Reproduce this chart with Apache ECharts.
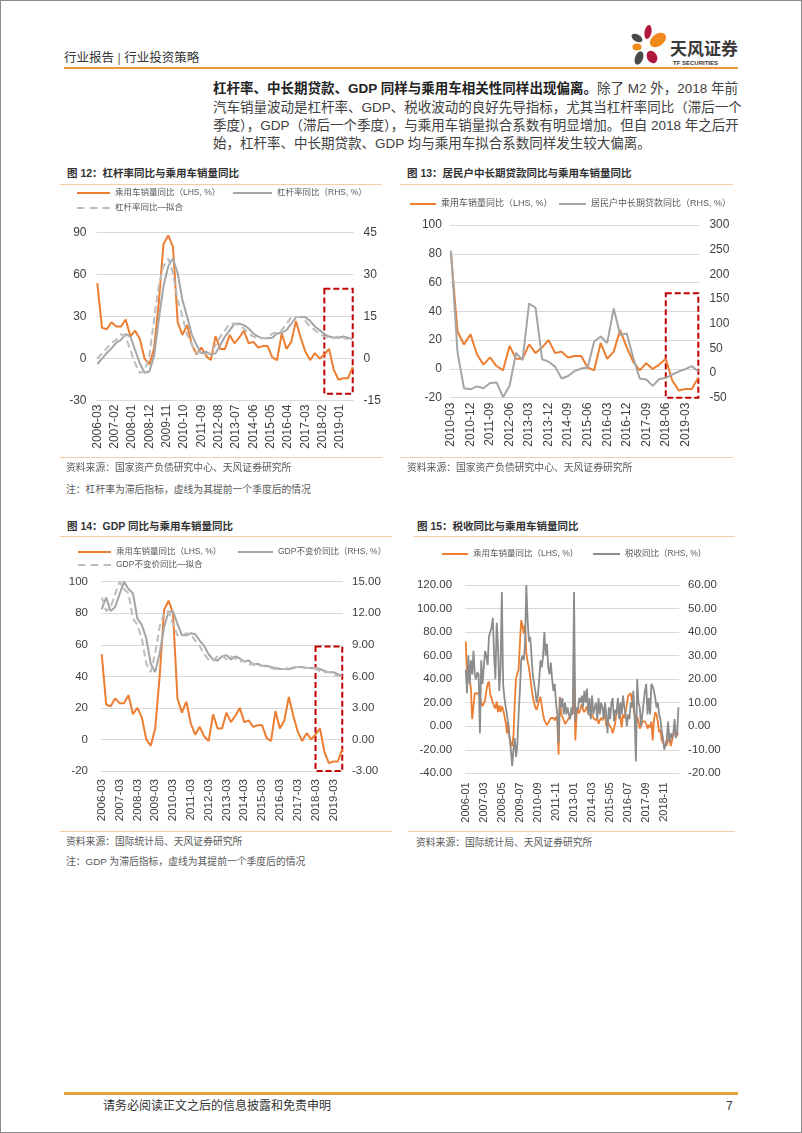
<!DOCTYPE html>
<html><head><meta charset="utf-8">
<script src="https://cdn.jsdelivr.net/npm/echarts@6/dist/echarts.min.js"></script>
<style>
html,body{margin:0;padding:0;background:#fff;}
#page{position:relative;width:802px;height:1133px;overflow:hidden;font-family:"Liberation Sans","Noto Sans CJK SC",sans-serif;color:#333;background:#fff;}
#frame{position:absolute;left:0;top:0;width:802px;height:1133px;box-sizing:border-box;border:1px solid #8c8c8c;pointer-events:none;}
.abs{position:absolute;white-space:nowrap;line-height:1;}
.t{font-size:10.5px;font-weight:bold;color:#333;}
.src{font-size:9.8px;color:#595959;}
.rule{position:absolute;height:1.5px;background:#F6CBA8;}
.para{position:absolute;left:213px;width:525px;font-size:13.5px;line-height:1;color:#404040;white-space:nowrap;text-align:justify;text-align-last:justify;}
.chart{position:absolute;}
</style></head>
<body>
<div id="page">
  <div class="abs" style="left:64px;top:51.5px;font-size:12.5px;color:#333;">行业报告 <span style="color:#666;">|</span> 行业投资策略</div>
  <svg class="abs" style="left:0;top:0;" width="802" height="80">
    <ellipse cx="648" cy="32" rx="3.5" ry="7" fill="#B0183C" transform="rotate(10 648 32)"/>
    <ellipse cx="637" cy="38" rx="6" ry="3.5" fill="#4a4a4a" transform="rotate(30 637 38)"/>
    <ellipse cx="658" cy="40" rx="9" ry="6" fill="#F08A1C" transform="rotate(-35 658 40)"/>
    <ellipse cx="637" cy="47" rx="4.5" ry="3.5" fill="#F08A1C"/>
    <ellipse cx="639" cy="58" rx="4" ry="7" fill="#4a4a4a" transform="rotate(20 639 58)"/>
    <ellipse cx="652" cy="57" rx="5" ry="6.5" fill="#B0183C" transform="rotate(-30 652 57)"/>
  </svg>
  <div class="abs" style="left:670px;top:38.5px;font-size:17px;font-weight:bold;color:#3a3a3a;font-family:'Noto Sans CJK SC',sans-serif;">天风证券</div>
  <div class="abs" style="left:673px;top:60px;font-size:6px;font-weight:bold;color:#333;">TF SECURITIES</div>
  <div class="rule" style="left:64px;top:67px;width:674px;height:2px;background:#E9963F;"></div>

  <div class="para" style="top:81.5px;"><b style="color:#222;">杠杆率、中长期贷款、GDP 同样与乘用车相关性同样出现偏离。</b>除了 M2 外，2018 年前</div>
  <div class="para" style="top:100.5px;">汽车销量波动是杠杆率、GDP、税收波动的良好先导指标，尤其当杠杆率同比（滞后一个</div>
  <div class="para" style="top:119.3px;">季度），GDP（滞后一个季度），与乘用车销量拟合系数有明显增加。但自 2018 年之后开</div>
  <div class="para" style="top:137.3px;text-align:left;text-align-last:left;">始，杠杆率、中长期贷款、GDP 均与乘用车拟合系数同样发生较大偏离。</div>

  <div class="abs t" style="left:67px;top:167.5px;">图 12：杠杆率同比与乘用车销量同比</div>
  <div class="rule" style="left:60px;top:183.5px;width:322px;"></div>
  <div class="abs t" style="left:407px;top:167.5px;">图 13：居民户中长期贷款同比与乘用车销量同比</div>
  <div class="rule" style="left:400px;top:183.5px;width:333px;"></div>

  <div id="c12" class="chart" style="left:60px;top:180px;width:340px;height:280px;"></div>
  <div id="c13" class="chart" style="left:400px;top:180px;width:340px;height:280px;"></div>

  <div class="rule" style="left:60px;top:456.5px;width:322px;"></div>
  <div class="rule" style="left:400px;top:456.5px;width:333px;"></div>
  <div class="abs src" style="left:66px;top:463px;">资料来源：国家资产负债研究中心、天风证券研究所</div>
  <div class="abs src" style="left:66px;top:485px;">注：杠杆率为滞后指标，虚线为其提前一个季度后的情况</div>
  <div class="abs src" style="left:407px;top:463px;">资料来源：国家资产负债研究中心、天风证券研究所</div>

  <div class="abs t" style="left:67px;top:520.5px;">图 14：GDP 同比与乘用车销量同比</div>
  <div class="rule" style="left:60px;top:535.5px;width:332px;"></div>
  <div class="abs t" style="left:417px;top:520.5px;">图 15：税收同比与乘用车销量同比</div>
  <div class="rule" style="left:413px;top:535.5px;width:322px;"></div>

  <div id="c14" class="chart" style="left:60px;top:536px;width:340px;height:292px;"></div>
  <div id="c15" class="chart" style="left:400px;top:536px;width:340px;height:292px;"></div>

  <div class="rule" style="left:60px;top:830.5px;width:332px;"></div>
  <div class="rule" style="left:408px;top:830.5px;width:327px;"></div>
  <div class="abs src" style="left:66px;top:837px;">资料来源：国际统计局、天风证券研究所</div>
  <div class="abs src" style="left:66px;top:857px;">注：GDP 为滞后指标，虚线为其提前一个季度后的情况</div>
  <div class="abs src" style="left:416px;top:838px;">资料来源：国际统计局、天风证券研究所</div>

  <div class="rule" style="left:64px;top:1092px;width:674px;height:2.5px;background:#E9A040;"></div>
  <div class="abs" style="left:103px;top:1100px;font-size:12px;color:#333;">请务必阅读正文之后的信息披露和免责申明</div>
  <div class="abs" style="left:726px;top:1100px;font-size:12px;color:#333;">7</div>
  <div id="frame"></div>
</div>
<script>
// ---------------- data ----------------
// quarterly passenger-car sales yoy (%), 2006-03 ... 2019-09
const salesQ = [54, 22, 21, 26, 23, 23, 28, 16, 20, 14, 0, -4, 7, 40, 82, 88,
  80, 26, 17, 24, 10, 3, 8, 2, -1, 16, 7, 7, 17, 11, 15, 20,
  11, 12, 8, 9, 9, 1, -1, 18, 7, 12, 27, 15, 5, -1, 4, 0,
  3, 7, -8, -15, -14, -14, -6];
// leverage yoy (RHS), 2006-03 ... 2019-09
const leverageQ = [-1.9, 0, 2, 3.7, 5.7, 6.7, 8.8, 7.9, 3.1, -1.7, -5, -4.6, 1, 14, 26, 33,
  35.8, 30.5, 21, 15, 8.5, 4.9, 1.9, 2.5, 1.5, 1.9, 4.9, 7.9, 10.2, 12.5, 12.5, 12,
  10.8, 9, 7.9, 7.3, 7.3, 7.5, 9, 9.3, 10.2, 12.4, 14.8, 15, 14.8, 13.5, 11.5, 10.2,
  8.8, 7.9, 7.5, 7.5, 7.9, 7.5, 6.9];
// leverage yoy, fitted (one quarter earlier), 2006-03 ... 2019-06
const leverageFit = [0, 2, 3.7, 5.7, 6.7, 8.8, 7.9, 3.1, -1.7, -5, -4.6, 1, 14, 26, 33, 35.8,
  30.5, 21, 15, 8.5, 4.9, 1.9, 2.5, 1.5, 1.9, 4.9, 7.9, 10.2, 12.5, 12.5, 12, 10.8,
  9, 7.9, 7.3, 7.3, 7.5, 9, 9.3, 10.2, 12.4, 14.8, 15, 14.8, 13.5, 11.5, 10.2, 8.8,
  7.9, 7.5, 7.5, 7.9, 7.5, 6.9];
// household mid/long-term loans yoy (RHS), 2010-03 ... 2019-09
const loanQ = [248, 43, -31, -33, -27, -31, -20, -19, -49, -26, 41, 26, 141, 132, 28, 23,
  13, -11, -6, 4, 9, 11, 64, 74, 61, 131, 77, 80, 31, -11, -13, -26,
  -12, -10, -3, 3, 8, 14, 3];
// GDP constant-price yoy (RHS), 2006-03 ... 2019-09
const gdpQ = [12.4, 13.5, 12.2, 12.6, 13.8, 15.0, 14.3, 13.9, 11.5, 10.9, 9.6, 7.2, 6.4, 8.2, 10.7, 12.1,
  12.2, 11.0, 9.9, 9.9, 10.1, 10.0, 9.4, 8.9, 8.1, 7.6, 7.5, 7.9, 8.0, 7.6, 7.9, 7.7,
  7.4, 7.5, 7.1, 7.2, 7.0, 7.0, 6.9, 6.8, 6.7, 6.7, 6.7, 6.8, 6.9, 6.9, 6.8, 6.8,
  6.8, 6.7, 6.5, 6.4, 6.4, 6.2, 6.0];
// GDP fitted (one quarter earlier), 2006-03 ... 2019-06
const gdpFit = [13.5, 12.2, 12.6, 13.8, 15.0, 14.3, 13.9, 11.5, 10.9, 9.6, 7.2, 6.4, 8.2, 10.7, 12.1, 12.2,
  11.0, 9.9, 9.9, 10.1, 10.0, 9.4, 8.9, 8.1, 7.6, 7.5, 7.9, 8.0, 7.6, 7.9, 7.7, 7.4,
  7.5, 7.1, 7.2, 7.0, 7.0, 6.9, 6.8, 6.7, 6.7, 6.7, 6.8, 6.9, 6.9, 6.8, 6.8, 6.8,
  6.7, 6.5, 6.4, 6.4, 6.2, 6.0];
// monthly passenger-car sales yoy (LHS), 2006-01 ... 2019-10
const salesM = [
  72, 45, 52, 40, 32, 6, 5, 28, 29, 28, 27, 26,
  20, 17, 16, 22, 30, 36, 38, 27, 24, 20, 17, 15,
  21, 12, 18, 12, 17, 14, 9, 3, -6, 3, -10, -14,
  -17, -8, 20, 40, 45, 48, 70, 90, 86, 79, 86, 62,
  55, 50, 42, 33, 25, 20, 16, 14, 18, 22, 25, 17,
  10, 5, 4, 1, 2, 5, 7, 8, 7, 5, 8, 5,
  -24, 25, 10, 8, 7, 2, 1, 5, 7, 8, 10, 12,
  48, -12, 10, 14, 11, 15, 19, 14, 12, 14, 17, 11,
  12, 8, 10, 7, 8, 5, 7, 2, 5, 7, 5, 8,
  10, 0, 5, 2, 1, -2, -6, -2, 3, 13, 20, 16,
  7, -1, 10, 7, 12, 11, 26, 25, 28, 21, 17, 16,
  0, 8, 4, -2, 0, 4, 4, 4, 2, -2, 1, -1,
  4, -12, 5, 12, 10, 4, -5, -3, -12, -13, -16, -16,
  -16, -17, -7, -17, -17, -7, -5, -9, -7, -6];
// monthly tax revenue yoy (RHS), 2006-01 ... 2019-10
const taxM = [
  24, 14, 30, 18, 28, 22, 32, 22, 20, 23, 22, -3,
  28, 18, 25, 32, 30, 26, 38, 40, 42, 46, 30, 20,
  44, 35, 15, 25, 57, 18, 12, 8, 5, 0, -5, -10,
  -17, -10, -5, -13, -8, 5, 15, 28, 30, 28, 35, 60,
  45, 36, 38, 30, 22, 18, 15, 10, 13, 20, 28, 25,
  30, 40, 30, 35, 25, 22, 27, 20, 15, 18, 10, 5,
  -7, 12, 8, 12, 5, 10, 5, 8, 5, 3, 8, 5,
  57, 2, 8, 7, 12, 10, 13, 8, 15, 10, 16, 5,
  12, 3, 13, 5, 8, 10, 3, 12, 5, 10, 8, 3,
  10, 5, -3, 8, 3, 10, 12, 2, 7, 5, 12, 3,
  10, 5, 13, 8, 5, 0, 5, 3, 10, 8, 15, 5,
  -15, 20, 10, 8, 0, 5, 10, 15, 18, 5, 12, 5,
  18, 17, 15, 12, 8, 10, 5, 3, -2, -5, -10, -8,
  -5, 2, -7, -3, -5, -3, 3, -5, -3, 8];

const NAME_SALES = '乘用车销量同比（LHS, %）';
const NAME_LEV = '杠杆率同比（RHS, %）';
const NAME_LEVFIT = '杠杆率同比—拟合';
const NAME_LOAN = '居民户中长期贷款同比（RHS, %）';
const NAME_GDP = 'GDP不变价同比（RHS, %）';
const NAME_GDPFIT = 'GDP不变价同比—拟合';
const NAME_TAX = '税收同比（RHS, %）';

// ---------------- helpers ----------------
const ORANGE = '#ED7D31', GREY = '#A5A5A5', GREYL = '#BDBDBD', GREYD = '#8C8C8C', RED = '#C00000';
const FONT = '"Liberation Sans","Noto Sans CJK SC",sans-serif';
const LBL = '#404040';
const ICON_SOLID = 'rect';
const ICON_DASH = 'path://M0,0h7v2h-7z M12,0h7v2h-7z M24,0h7v2h-7z';

function monthList(y0, m0, y1, m1) {
  const out = []; let y = y0, m = m0;
  while (y < y1 || (y === y1 && m <= m1)) {
    out.push(y + '-' + String(m).padStart(2, '0'));
    m++; if (m > 12) { m = 1; y++; }
  }
  return out;
}
const months06 = monthList(2006, 3, 2019, 9);
const months10 = monthList(2010, 3, 2019, 9);
const months15 = monthList(2006, 1, 2019, 10);
const quarters = months06.filter((d, i) => i % 3 === 0);
const pairs = (dates, vals) => vals.map((v, i) => [dates[i], v]);

function legendItem(name, left, yc, w, fs, dashed) {
  return { data: [{ name: name, icon: dashed ? ICON_DASH : ICON_SOLID }], left: left, top: yc - 6, padding: 0,
    itemWidth: w, itemHeight: 2, symbolKeepAspect: false, itemGap: 0,
    textStyle: { fontSize: fs, color: '#595959', fontFamily: FONT, lineHeight: 12 }, selectedMode: false };
}
function xAxisCfg(cats, interval, fs, margin) {
  return { type: 'category', data: cats, boundaryGap: true,
    axisLine: { show: false }, axisTick: { show: false }, splitLine: { show: false },
    axisLabel: { interval: interval, rotate: 90, fontSize: fs, color: LBL, margin: margin, fontFamily: FONT } };
}
function yAxisCfg(min, max, step, fs, margin, right, fmt, grid) {
  return { type: 'value', min: min, max: max, interval: step, position: right ? 'right' : 'left',
    axisLine: { show: false }, axisTick: { show: false },
    splitLine: { show: grid, lineStyle: { color: '#D9D9D9', width: 1 } },
    axisLabel: { fontSize: fs, color: LBL, margin: margin, fontFamily: FONT, formatter: fmt } };
}
function line(name, data, axis, color, width, dashed, z) {
  return { name: name, type: 'line', data: data, yAxisIndex: axis, symbol: 'none', showSymbol: false,
    lineStyle: { color: color, width: width, type: dashed ? [7, 4] : 'solid' }, itemStyle: { color: color },
    emphasis: { disabled: true }, z: z };
}
function box(cats, x0, x1, y0, y1) {
  return { silent: true, label: { show: false },
    itemStyle: { color: 'rgba(0,0,0,0)', borderColor: RED, borderWidth: 2, borderType: [6, 3] },
    data: [[{ coord: [cats.indexOf(x0), y0] }, { coord: [cats.indexOf(x1), y1] }]] };
}
const int = v => String(v);
const fix2 = v => v.toFixed(2);

// ---------------- chart 12 ----------------
const c12 = echarts.init(document.getElementById('c12'));
const s12 = line(NAME_SALES, pairs(quarters, salesQ), 0, ORANGE, 2, false, 2);
s12.markArea = box(months06, '2018-03', '2019-09', 50, -25);
c12.setOption({
  animation: false, textStyle: { fontFamily: FONT },
  grid: { left: 36.5, top: 52.7, width: 257, height: 168, containLabel: false, outerBoundsMode: 'none' },
  legend: [legendItem(NAME_SALES, 17, 13, 33, 8.5), legendItem(NAME_LEV, 173, 13, 39, 8.5), legendItem(NAME_LEVFIT, 17, 28, 33, 8.5, true)],
  xAxis: xAxisCfg(months06, 10, 12, 4),
  yAxis: [yAxisCfg(-30, 90, 30, 12, 10, false, int, true), yAxisCfg(-15, 45, 15, 12, 10, true, int, false)],
  series: [s12,
    line(NAME_LEV, pairs(quarters, leverageQ), 1, GREY, 2, false, 3),
    line(NAME_LEVFIT, pairs(quarters, leverageFit), 1, GREYL, 2, true, 3)]
});

// ---------------- chart 13 ----------------
const c13 = echarts.init(document.getElementById('c13'));
const q10 = quarters.slice(16);
const s13 = line(NAME_SALES, pairs(q10, salesQ.slice(16)), 0, ORANGE, 2, false, 2);
s13.markArea = box(months10, '2018-06', '2019-09', 52.5, -20);
c13.setOption({
  animation: false, textStyle: { fontFamily: FONT },
  grid: { left: 49.9, top: 45, width: 249.5, height: 172.7, containLabel: false, outerBoundsMode: 'none' },
  legend: [legendItem(NAME_SALES, 10, 24, 26, 9), legendItem(NAME_LOAN, 159, 24, 27, 9)],
  xAxis: xAxisCfg(months10, 8, 12, 5),
  yAxis: [yAxisCfg(-20, 100, 20, 12, 8, false, int, true), yAxisCfg(-50, 300, 50, 12, 10, true, int, false)],
  series: [s13, line(NAME_LOAN, pairs(q10, loanQ), 1, GREY, 2, false, 3)]
});

// ---------------- chart 14 ----------------
const c14 = echarts.init(document.getElementById('c14'));
const s14 = line(NAME_SALES, pairs(quarters, salesQ), 0, ORANGE, 2, false, 2);
s14.markArea = box(months06, '2018-03', '2019-09', 59, -20);
c14.setOption({
  animation: false, textStyle: { fontFamily: FONT },
  grid: { left: 41, top: 45.7, width: 242, height: 189.3, containLabel: false, outerBoundsMode: 'none' },
  legend: [legendItem(NAME_SALES, 18, 16, 33, 8.5), legendItem(NAME_GDP, 178, 16, 35, 8.5), legendItem(NAME_GDPFIT, 18, 29, 33, 8.5, true)],
  xAxis: xAxisCfg(months06, 11, 11.5, 8),
  yAxis: [yAxisCfg(-20, 100, 20, 11.5, 13, false, int, true), yAxisCfg(-3, 15, 3, 11.5, 9, true, fix2, false)],
  series: [s14,
    line(NAME_GDP, pairs(quarters, gdpQ), 1, GREY, 2, false, 3),
    line(NAME_GDPFIT, pairs(quarters, gdpFit), 1, GREYL, 2, true, 3)]
});

// ---------------- chart 15 ----------------
const c15 = echarts.init(document.getElementById('c15'));
c15.setOption({
  animation: false, textStyle: { fontFamily: FONT },
  grid: { left: 65.1, top: 49, width: 214, height: 188.3, containLabel: false, outerBoundsMode: 'none' },
  legend: [legendItem(NAME_SALES, 42, 18, 26, 8.5), legendItem(NAME_TAX, 193, 18, 27, 8.5)],
  xAxis: xAxisCfg(months15, 13, 11, 9),
  yAxis: [yAxisCfg(-40, 120, 20, 11.5, 13, false, fix2, true), yAxisCfg(-20, 60, 10, 11.5, 9, true, fix2, false)],
  series: [line(NAME_SALES, salesM, 0, ORANGE, 1.8, false, 2), line(NAME_TAX, taxM, 1, GREYD, 1.8, false, 3)]
});
</script>
</body></html>
